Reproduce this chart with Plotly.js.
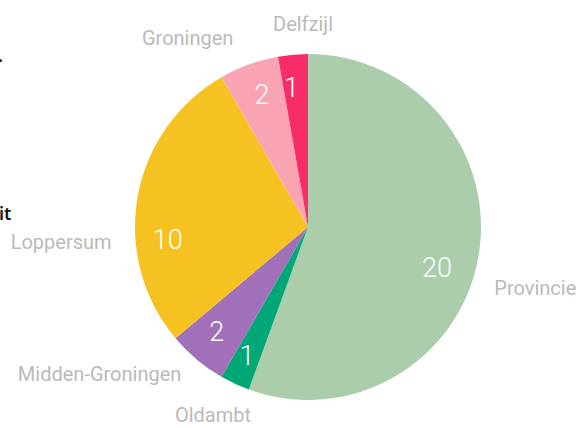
<!DOCTYPE html>
<html>
<head>
<meta charset="utf-8">
<script src="https://cdn.plot.ly/plotly-3.0.1.min.js"></script>
<style>html,body{margin:0;padding:0;background:#fff;}#chart{width:583px;height:428px;}</style>
</head>
<body>
<div id="chart"></div>
<script>
// ---- data ----
const labels = ["Provincie", "Oldambt", "Midden-Groningen", "Loppersum", "Groningen", "Delfzijl"];
const values = [20, 1, 2, 10, 2, 1];

// ---- styles ----
const colors = ["#abcdab", "#00a878", "#a070b8", "#f5c222", "#f9a3b3", "#f72d6a"];
const W = 583, H = 428, CX = 308, CY = 227, R = 173;
// text placement tweaks per slice (angle offset in degrees, radius of the helper ring in px)
const valueRot = [10.3, -3.4, -1.6, -16.2, 5.4, 4.5];
const valueRad = [113, 124, 122, 118, 121, 123];
const labelRot = [8.4, -8.9, 0.7, -14.5, -1, 4.4];
const labelRad = [190, 184, 185, 191, 191.5, 193];
const topLabel = 5; // slice whose name is centred above the pie

function dom(r) {
  return {x: [(CX - r) / W, (CX + r) / W], y: [(H - CY - r) / H, (H - CY + r) / H]};
}
const base = {
  type: "pie", labels: labels, values: values, sort: false,
  direction: "clockwise", showlegend: false, hoverinfo: "skip"
};
const clear = labels.map(() => "rgba(0,0,0,0)");
const labelFont = {color: "#bababa", size: 20, family: "Roboto, 'Open Sans', sans-serif"};
const valueFont = {color: "#ffffff", size: 27, family: "Roboto, 'Open Sans', sans-serif", weight: 300};

const data = [
  Object.assign({}, base, {
    rotation: 0, domain: dom(R), marker: {colors: colors, line: {width: 0}},
    textinfo: "none", hoverinfo: "label+value"
  })
];
labels.forEach((lab, i) => {
  data.push(Object.assign({}, base, {
    rotation: valueRot[i], domain: dom(valueRad[i]),
    marker: {colors: clear, line: {width: 0}},
    texttemplate: values.map((v, j) => j === i ? "%{value}" : ""),
    textposition: "outside", outsidetextfont: valueFont
  }));
  if (i !== topLabel) {
    data.push(Object.assign({}, base, {
      rotation: labelRot[i], domain: dom(labelRad[i]),
      marker: {colors: clear, line: {width: 0}},
      texttemplate: labels.map((l, j) => j === i ? "%{label}" : ""),
      textposition: "outside", outsidetextfont: labelFont
    }));
  }
});
// name of the top slice, centred above the pie
data.push(Object.assign({}, base, {
  rotation: 0,
  domain: {x: [(303 - 150) / W, (303 + 150) / W], y: [0.3, (H - 11) / H]},
  marker: {colors: clear, line: {width: 0}},
  textinfo: "none",
  title: {text: labels[topLabel], position: "top center", font: labelFont}
}));

const layout = {
  width: W, height: H,
  margin: {l: 0, r: 0, t: 0, b: 0, autoexpand: false},
  paper_bgcolor: "#ffffff", plot_bgcolor: "#ffffff", showlegend: false,
  annotations: [
    {text: "it", xref: "paper", yref: "paper", x: 13 / W, y: (H - 213) / H,
     xanchor: "right", yanchor: "middle", showarrow: false,
     font: {color: "#111111", size: 18, family: "'Noto Sans', sans-serif", weight: 600}},
    {text: ".", xref: "paper", yref: "paper", x: 5 / W, y: (H - 55) / H,
     xanchor: "right", yanchor: "middle", showarrow: false,
     font: {color: "#111111", size: 18, family: "'Noto Sans', sans-serif", weight: 600}}
  ]
};

Plotly.newPlot("chart", data, layout, {displayModeBar: false, staticPlot: true});
</script>
</body>
</html>
